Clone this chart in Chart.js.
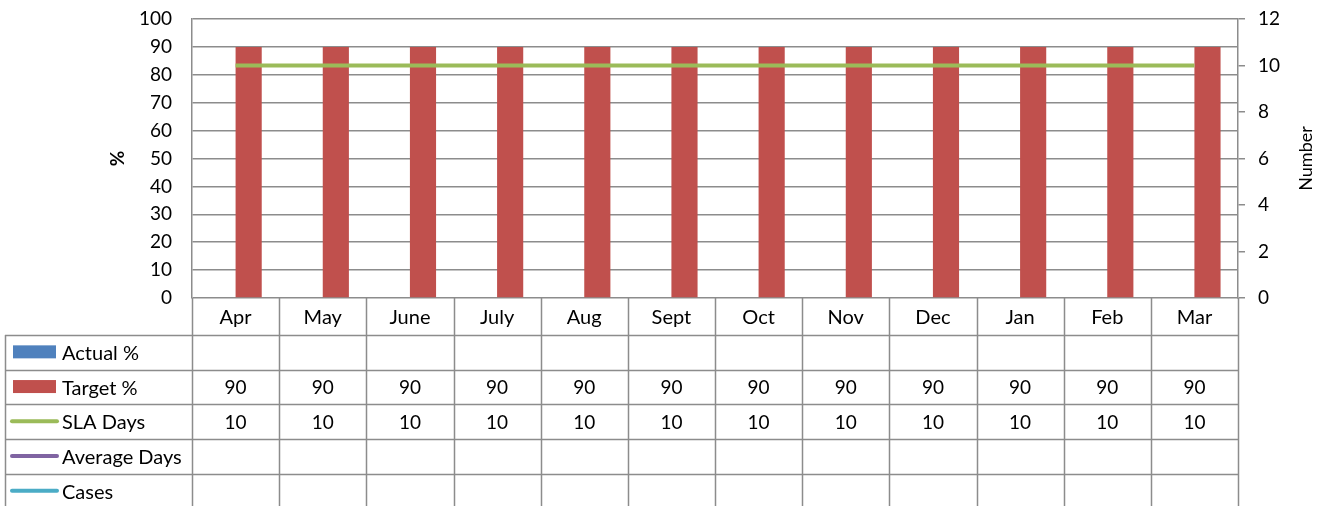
<!DOCTYPE html>
<html>
<head>
<meta charset="utf-8">
<script src="https://cdn.jsdelivr.net/npm/chart.js@4.4.1/dist/chart.umd.min.js"></script>
<style>
  html, body { margin: 0; padding: 0; background: #fff; }
  #wrap { width: 1329px; height: 506px; position: relative; }
</style>
</head>
<body>
<div id="wrap"><canvas id="slaChart"></canvas></div>
<script>
const months = ["Apr", "May", "June", "July", "Aug", "Sept", "Oct", "Nov", "Dec", "Jan", "Feb", "Mar"];
const actualPct = [null, null, null, null, null, null, null, null, null, null, null, null];
const targetPct = [90, 90, 90, 90, 90, 90, 90, 90, 90, 90, 90, 90];
const slaDays = [10, 10, 10, 10, 10, 10, 10, 10, 10, 10, 10, 10];
const averageDays = [null, null, null, null, null, null, null, null, null, null, null, null];
const cases = [null, null, null, null, null, null, null, null, null, null, null, null];
const leftTicks = [0, 10, 20, 30, 40, 50, 60, 70, 80, 90, 100];
const rightTicks = [0, 2, 4, 6, 8, 10, 12];

const FONT = "Lato";
const GRID = "#8c8c8c";

// table rows shown under the plot
const tableRows = [
  { label: "Actual %", type: "box", color: "#4F81BD", values: actualPct },
  { label: "Target %", type: "box", color: "#C0504D", values: targetPct },
  { label: "SLA Days", type: "line", color: "#9BBB59", values: slaDays },
  { label: "Average Days", type: "line", color: "#8064A2", values: averageDays },
  { label: "Cases", type: "line", color: "#4BACC6", values: cases },
];

const dataTable = {
  id: "dataTable",
  afterDraw(chart) {
    const ctx = chart.ctx;
    const x = chart.scales.x;
    const area = chart.chartArea;
    const step = (area.right - area.left) / months.length;
    const top = area.bottom;
    const headH = 37;
    const rowH = 34.7;
    const tableLeft = 5;
    const bottom = chart.height + 2;

    ctx.save();
    ctx.strokeStyle = GRID;
    ctx.lineWidth = 1.5;
    ctx.beginPath();
    // verticals
    for (let i = 0; i <= months.length; i++) {
      const px = Math.round(area.left + i * step) + 0.5;
      ctx.moveTo(px, top);
      ctx.lineTo(px, bottom);
    }
    ctx.moveTo(tableLeft + 0.5, top + headH);
    ctx.lineTo(tableLeft + 0.5, bottom);
    // horizontals
    for (let r = 0; r < tableRows.length; r++) {
      const py = Math.round(top + headH + r * rowH) + 0.5;
      ctx.moveTo(tableLeft, py);
      ctx.lineTo(area.right, py);
    }
    ctx.stroke();

    ctx.fillStyle = "#000";
    ctx.font = "20px " + FONT;
    ctx.textAlign = "center";
    ctx.textBaseline = "middle";
    months.forEach((m, i) => {
      ctx.fillText(m, x.getPixelForValue(i), top + headH / 2 + 1);
    });

    tableRows.forEach((row, r) => {
      const cy = top + headH + r * rowH + rowH / 2 + 1;
      if (row.type === "box") {
        ctx.fillStyle = row.color;
        ctx.fillRect(13, cy - 8, 43, 13);
      } else {
        ctx.strokeStyle = row.color;
        ctx.lineWidth = 4;
        ctx.lineCap = "round";
        ctx.beginPath();
        ctx.moveTo(12, cy - 1.5);
        ctx.lineTo(57, cy - 1.5);
        ctx.stroke();
      }
      ctx.fillStyle = "#000";
      ctx.textAlign = "left";
      ctx.font = "20px " + FONT;
      ctx.fillText(row.label, 62, cy);
      ctx.textAlign = "center";
      ctx.font = "19px " + FONT;
      row.values.forEach((v, i) => {
        if (v !== null) ctx.fillText(String(v), x.getPixelForValue(i), cy);
      });
    });

    // axis titles
    ctx.save();
    ctx.translate(118, (area.top + area.bottom) / 2);
    ctx.rotate(-Math.PI / 2);
    ctx.font = "bold 19px " + FONT;
    ctx.fillText("%", 0, 0);
    ctx.restore();
    ctx.save();
    ctx.translate(1306, (area.top + area.bottom) / 2);
    ctx.rotate(-Math.PI / 2);
    ctx.font = "18px " + FONT;
    ctx.fillText("Number", 0, 0);
    ctx.restore();
    ctx.restore();
  },
};

new Chart(document.getElementById("slaChart"), {
  data: {
    labels: months,
    datasets: [
      { type: "bar", label: "Actual %", data: actualPct, backgroundColor: "#4F81BD", yAxisID: "y", order: 2 },
      { type: "bar", label: "Target %", data: targetPct, backgroundColor: "#C0504D", yAxisID: "y", order: 2 },
      { type: "line", label: "SLA Days", data: slaDays, borderColor: "#9BBB59", borderWidth: 4, pointRadius: 0, tension: 0, yAxisID: "y1", order: 1 },
      { type: "line", label: "Average Days", data: averageDays, borderColor: "#8064A2", borderWidth: 4, pointRadius: 0, yAxisID: "y1", order: 1 },
      { type: "line", label: "Cases", data: cases, borderColor: "#4BACC6", borderWidth: 4, pointRadius: 0, yAxisID: "y1", order: 1 },
    ],
  },
  options: {
    responsive: true,
    maintainAspectRatio: false,
    animation: false,
    layout: { padding: { top: 19, bottom: 208, left: 0, right: 0 } },
    datasets: { bar: { categoryPercentage: 0.6, barPercentage: 1 } },
    plugins: { legend: { display: false }, tooltip: { enabled: false } },
    scales: {
      x: {
        offset: true,
        grid: { display: false },
        border: { display: false },
        ticks: { display: false },
        afterFit: (s) => { s.height = 0; },
      },
      y: {
        position: "left",
        min: 0,
        max: 100,
        afterBuildTicks: (s) => { s.ticks = leftTicks.map((v) => ({ value: v })); },
        afterFit: (s) => { s.width = 192; s.paddingTop = 0; s.paddingBottom = 0; },
        grid: { color: GRID, lineWidth: 1.5, drawTicks: false },
        border: { color: GRID, width: 1.5 },
        ticks: { color: "#000", font: { family: FONT, size: 19 }, padding: 20 },
      },
      y1: {
        position: "right",
        min: 0,
        max: 12,
        afterBuildTicks: (s) => { s.ticks = rightTicks.map((v) => ({ value: v })); },
        afterFit: (s) => { s.width = 1329 - 1238; s.paddingTop = 0; s.paddingBottom = 0; },
        grid: { drawOnChartArea: false, color: GRID, lineWidth: 1.5, tickLength: 7 },
        border: { color: GRID, width: 1.5 },
        ticks: { color: "#000", font: { family: FONT, size: 19 }, padding: 13 },
      },
    },
  },
  plugins: [dataTable],
});
</script>
</body>
</html>
